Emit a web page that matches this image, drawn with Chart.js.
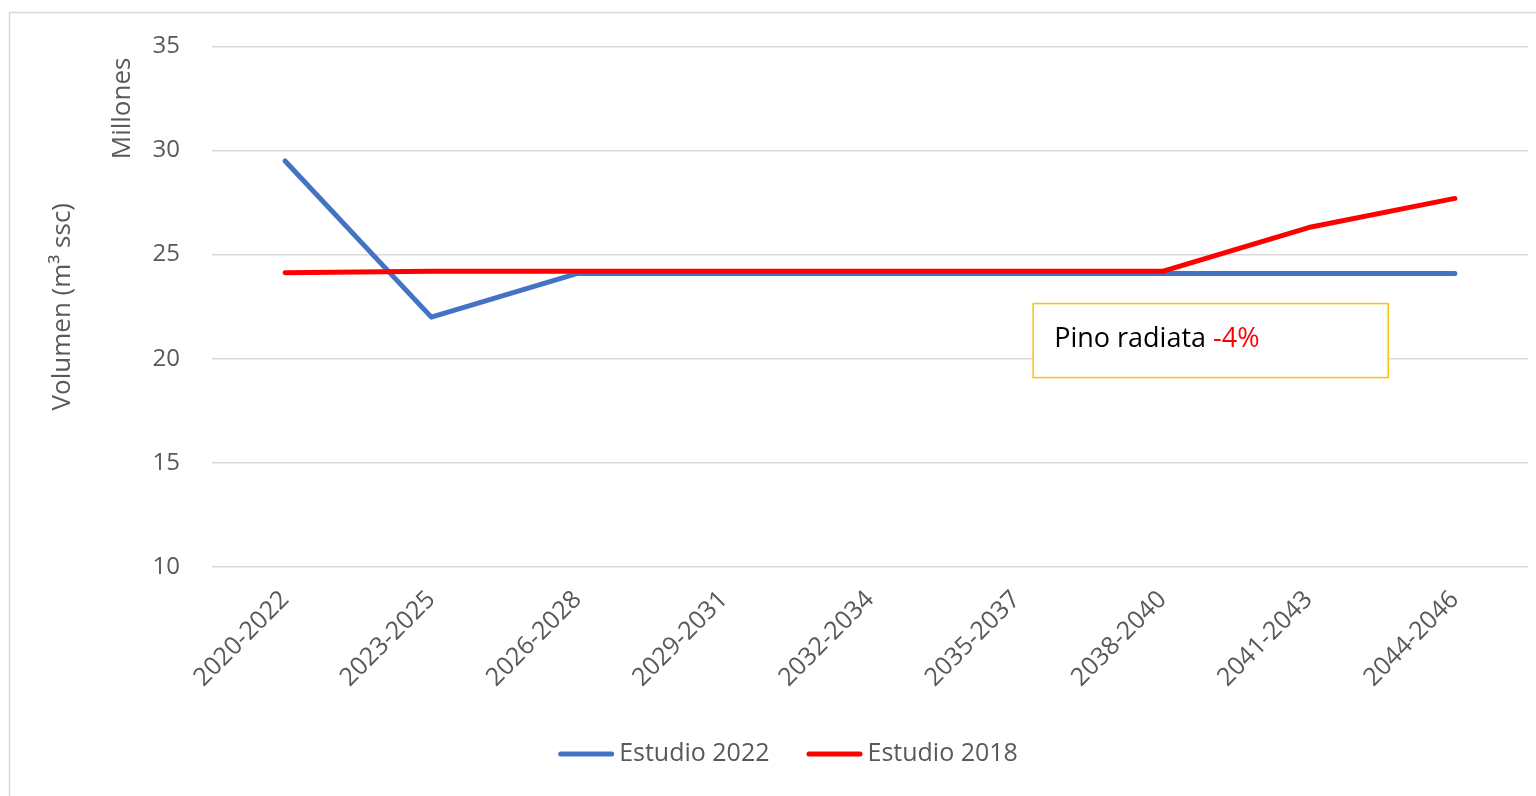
<!DOCTYPE html>
<html>
<head>
<meta charset="utf-8">
<script src="https://cdn.jsdelivr.net/npm/chart.js@4/dist/chart.umd.min.js"></script>
<style>
  html, body { margin: 0; padding: 0; background: #fff; }
  #wrap { width: 1536px; height: 796px; position: relative; }
</style>
</head>
<body>
<div id="wrap"><canvas id="chart" width="1536" height="796"></canvas></div>
<script>
const periods = ['2020-2022', '2023-2025', '2026-2028', '2029-2031', '2032-2034',
                 '2035-2037', '2038-2040', '2041-2043', '2044-2046'];
const estudio2022 = [29.5, 22.0, 24.1, 24.1, 24.1, 24.1, 24.1, 24.1, 24.1];
const estudio2018 = [24.13, 24.2, 24.2, 24.2, 24.2, 24.2, 24.2, 26.3, 27.7];
const seriesNames = ['Estudio 2022', 'Estudio 2018'];
const seriesColors = ['#4472c4', '#ff0000'];

const FONT = "'Open Sans', 'Noto Sans', sans-serif";
const grey = '#595959';

// outer frame, "Millones", note box and the legend row
const extras = {
  id: 'extras',
  beforeDraw(chart) {
    const { ctx } = chart;
    ctx.save();
    ctx.fillStyle = '#fff';
    ctx.fillRect(0, 0, chart.width, chart.height);
    ctx.strokeStyle = '#d9d9d9';
    ctx.lineWidth = 1.5;
    ctx.strokeRect(9.5, 12.5, chart.width + 20, chart.height + 20);
    ctx.restore();
  },
  afterDraw(chart) {
    const { ctx, chartArea: { left, right, top, bottom } } = chart;
    ctx.save();
    ctx.translate(left - 89, top + 62);
    ctx.rotate(-Math.PI / 2);
    ctx.fillStyle = grey;
    ctx.font = `26px ${FONT}`;
    ctx.textAlign = 'center';
    ctx.textBaseline = 'middle';
    ctx.fillText('Millones', 0, 0);
    ctx.restore();

    // note box
    const bx = left + (right - left) * 0.624;
    const by = top + (bottom - top) * 0.494;
    const bw = 355, bh = 74;
    ctx.save();
    ctx.fillStyle = '#fff';
    ctx.fillRect(bx, by, bw, bh);
    ctx.strokeStyle = '#ffc000';
    ctx.lineWidth = 1.5;
    ctx.strokeRect(bx, by, bw, bh);
    ctx.font = `27px ${FONT}`;
    ctx.textBaseline = 'alphabetic';
    ctx.fillStyle = '#000';
    const t1 = 'Pino radiata ';
    ctx.fillText(t1, bx + 21, by + 43);
    ctx.fillStyle = '#ff0000';
    ctx.fillText('-4%', bx + 21 + ctx.measureText(t1).width, by + 43);
    ctx.restore();

    // legend
    ctx.save();
    ctx.font = `25px ${FONT}`;
    ctx.textBaseline = 'middle';
    const lineLen = 56, gap = 5, spacing = 37;
    const widths = seriesNames.map(n => lineLen + gap + ctx.measureText(n).width);
    const total = widths.reduce((a, b) => a + b, 0) + spacing * (seriesNames.length - 1);
    let x = chart.width / 2 + 20 - total / 2;
    const y = 754;
    seriesNames.forEach((name, i) => {
      ctx.strokeStyle = seriesColors[i];
      ctx.lineWidth = 5;
      ctx.lineCap = 'round';
      ctx.beginPath();
      ctx.moveTo(x + 2.5, y);
      ctx.lineTo(x + lineLen - 2.5, y);
      ctx.stroke();
      ctx.fillStyle = grey;
      ctx.fillText(name, x + lineLen + gap, y);
      x += widths[i] + spacing;
    });
    ctx.restore();
  }
};

const data = {
  labels: periods,
  datasets: [
    { label: seriesNames[0], data: estudio2022, borderColor: seriesColors[0], backgroundColor: seriesColors[0], order: 1 },
    { label: seriesNames[1], data: estudio2018, borderColor: seriesColors[1], backgroundColor: seriesColors[1], order: 0 }
  ].map(d => Object.assign(d, {
    borderWidth: 5, pointRadius: 0, tension: 0,
    borderCapStyle: 'round', borderJoinStyle: 'round', fill: false
  }))
};

new Chart(document.getElementById('chart'), {
  type: 'line',
  data,
  options: {
    responsive: false,
    animation: false,
    layout: { padding: { left: 38, right: 8, top: 45, bottom: 65 } },
    plugins: {
      tooltip: { enabled: false },
      legend: { display: false }
    },
    scales: {
      x: {
        offset: true,
        grid: { display: false },
        border: { display: false },
        ticks: {
          color: grey,
          font: { family: FONT, size: 25 },
          maxRotation: 45,
          minRotation: 45,
          padding: 10,
          autoSkip: false
        },
        afterFit(scale) { scale.height = 164; }
      },
      y: {
        min: 10,
        max: 35,
        grid: { color: '#d9d9d9', lineWidth: 1.5, drawTicks: false },
        border: { display: false },
        ticks: {
          stepSize: 5,
          color: grey,
          font: { family: FONT, size: 24 },
          padding: 32
        },
        title: {
          display: true,
          text: 'Volumen (m³ ssc)',
          color: grey,
          font: { family: FONT, size: 26 },
          padding: { top: 9, bottom: 0 }
        },
        afterFit(scale) { scale.width = 174; }
      }
    }
  },
  plugins: [extras]
});
</script>
</body>
</html>
